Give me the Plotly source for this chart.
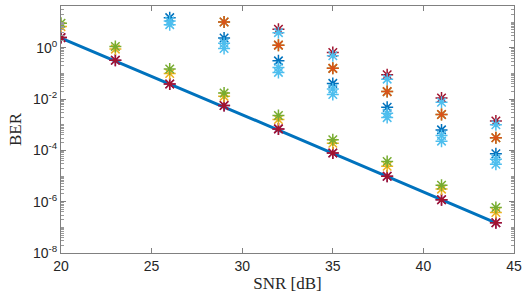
import plotly.graph_objects as go

# ---- data ----
snr = [20, 23, 26, 29, 32, 35, 38, 41, 44]
ber_theory = [2.4, 0.31, 0.039, 0.0049, 6.2e-4, 7.8e-5, 9.8e-6, 1.2e-6, 1.5e-7]

low_purple = [2.5, 0.33, 0.039, 0.0056, 6.9e-4, 7.9e-5, 9.8e-6, 1.2e-6, 1.5e-7]
low_red = [2.5, 0.33, 0.039, 0.0056, 6.9e-4, 7.9e-5, 9.8e-6, 1.2e-6, 1.5e-7]
mid_yellow = [6.7, 0.89, 0.10, 0.0128, 0.0016, 1.9e-4, 2.4e-5, 3.1e-6, 3.8e-7]
mid_green = [9.0, 1.12, 0.149, 0.0174, 0.0023, 2.6e-4, 3.7e-5, 4.4e-6, 5.9e-7]

up_red = [None, None, None, None, 5.3, 0.66, 0.089, 0.011, 1.4e-3]
up_lb1 = [None, None, None, None, 3.9, 0.49, 0.06, 0.0076, 1.0e-3]
up_green = [None, None, None, 10.2, 1.27, 0.158, 0.0196, 0.0025, 3.1e-4]
up_orange = [None, None, None, 10.2, 1.27, 0.158, 0.0196, 0.0025, 3.1e-4]
up_blue = [None, None, 15.0, 2.4, 0.31, 0.041, 0.0048, 6.3e-4, 7.4e-5]
up_lb2 = [None, None, 11.0, 1.5, 0.17, 0.025, 0.0028, 3.8e-4, 4.5e-5]
up_lb3 = [None, None, 8.0, 0.94, 0.11, 0.015, 0.0019, 2.3e-4, 2.9e-5]

x_ticks = [20, 25, 30, 35, 40, 45]
y_major = [-8, -6, -4, -2, 0]
y_labels = ["10<sup>-8</sup>", "10<sup>-6</sup>", "10<sup>-4</sup>",
            "10<sup>-2</sup>", "10<sup>0</sup>"]
y_decades = [-8, -7, -6, -5, -4, -3, -2, -1, 0, 1]

BLUE = "#0072BD"
ORANGE = "#D95319"
YELLOW = "#EDB120"
PURPLE = "#7E2F8E"
GREEN = "#77AC30"
LBLUE = "#4DBEEE"
DRED = "#A2142F"

fig = go.Figure()

fig.add_trace(go.Scatter(x=snr, y=ber_theory, mode="lines",
                         line=dict(color=BLUE, width=3), showlegend=False))


def stars(vals, color):
    fig.add_trace(go.Scatter(
        x=snr, y=vals, mode="markers", showlegend=False,
        marker=dict(symbol="asterisk-open", size=10, color=color,
                    line=dict(color=color, width=1.5))))


stars(low_purple, PURPLE)
stars(low_red, DRED)
stars(mid_yellow, YELLOW)
stars(mid_green, GREEN)
stars(up_red, DRED)
stars(up_lb1, LBLUE)
stars(up_green, GREEN)
stars(up_orange, ORANGE)
stars(up_blue, BLUE)
stars(up_lb2, LBLUE)
stars(up_lb3, LBLUE)

# minor ticks: every 1..9 x decade except labelled major decades
minor_vals = [m * 10 ** d for d in y_decades for m in range(1, 10)
              if not (m == 1 and d in y_major)]

fig.update_layout(
    width=527, height=299,
    margin=dict(l=61, r=10, t=5, b=46),
    plot_bgcolor="white", paper_bgcolor="white",
    font=dict(family="Liberation Sans, Arial, sans-serif", size=14, color="#262626"),
)
fig.update_xaxes(
    range=[20, 45], tickvals=x_ticks, ticktext=[str(v) for v in x_ticks],
    showgrid=False, zeroline=False,
    showline=True, linecolor="#808080", linewidth=1, mirror="ticks",
    ticks="inside", ticklen=5, tickcolor="#808080",
    tickfont=dict(size=14, color="#262626"),
    title=dict(text="SNR [dB]", font=dict(family="Liberation Serif, Times New Roman, serif",
                                           size=17, color="#262626"), standoff=4),
)
fig.update_yaxes(
    type="log", range=[-8, 1.63],
    tickvals=[10 ** d for d in y_major], ticktext=y_labels,
    showgrid=False, zeroline=False,
    showline=True, linecolor="#808080", linewidth=1, mirror="ticks",
    ticks="inside", ticklen=5, tickcolor="#808080",
    minor=dict(tickvals=minor_vals, ticks="inside", ticklen=3, tickcolor="#9a9a9a", showgrid=False),
    tickfont=dict(size=14, color="#262626"),
    title=dict(text="BER", font=dict(family="Liberation Serif, Times New Roman, serif",
                                      size=17, color="#262626"), standoff=6),
)

fig.write_html("out.html", config={"displayModeBar": False, "staticPlot": True})

# remove the default page margin so the figure sits at the window's top-left
with open("out.html", "r", encoding="utf-8") as f:
    html = f.read()
html = html.replace("<head>", "<head><style>html,body{margin:0;padding:0;overflow:hidden;}</style>", 1)
with open("out.html", "w", encoding="utf-8") as f:
    f.write(html)
